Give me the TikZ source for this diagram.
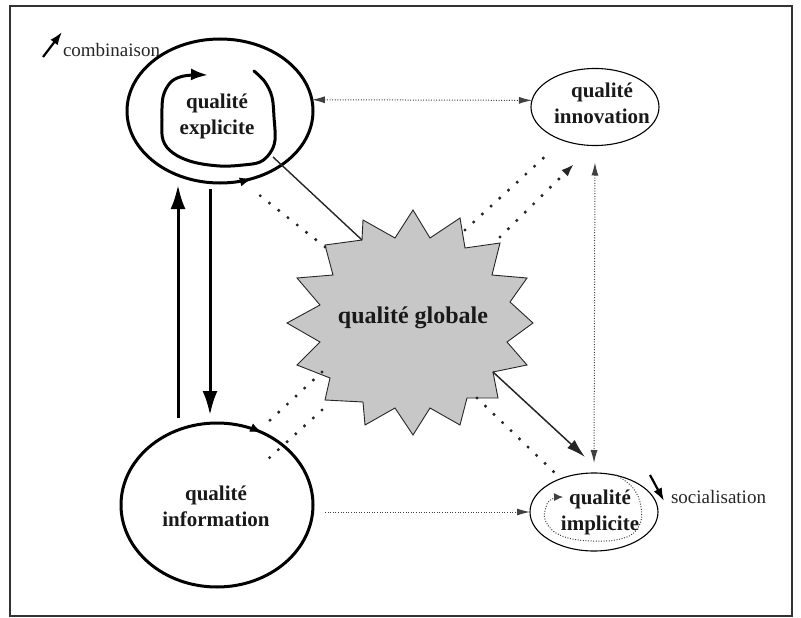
\documentclass[tikz,border=0pt]{standalone}
\usepackage{fontspec}
\setmainfont{Liberation Serif}
\usetikzlibrary{arrows.meta,shapes.geometric,calc}

\begin{document}
\begin{tikzpicture}[x=1pt,y=-1pt,
  every node/.style={inner sep=0pt, outer sep=0pt},
  ring/.style={ellipse, draw=black, inner sep=0pt},
  boldring/.style={line width=3pt},
  thinring/.style={line width=1.1pt},
  lbl/.style={font=\bfseries\fontsize{21}{26}\selectfont, align=center, text=black!90},
  side/.style={font=\fontsize{19}{22}\selectfont, text=black!85},
  fatarrow/.style={line width=3pt, -{Latex[length=24pt,width=15pt]}},
  dotrow/.style={line width=3.4pt, line cap=round, dash pattern=on 0pt off 11.8pt, draw=black!85},
  finedot/.style={line width=1pt, dash pattern=on 1pt off 1.6pt, draw=black!75},
  finetip/.style={-{Latex[length=13pt,width=7pt]}},
  fineboth/.style={{Latex[length=13pt,width=7pt]}-{Latex[length=13pt,width=7pt]}},
  cyclehead/.style={line width=1pt, -{Latex[length=12pt,width=9pt]}},
  labelarrow/.style={line width=2.2pt, -{Latex[length=13pt,width=9pt]}}
]
\useasboundingbox (0,0) rectangle (801,618);
\draw[line width=1.4pt, black!80] (10,6) rectangle (792,616);

% central starburst
\path[fill=black!22, draw=black!85, line width=0.9pt]
  (413,210) -- (430,238) -- (460,218) -- (465,248) -- (500,243) -- (492,275)
  -- (527,278) -- (510,302) -- (533,323) -- (507,342) -- (527,365) -- (493,372)
  -- (498,398) -- (467,398) -- (460,425) -- (430,408) -- (413,435) -- (395,408)
  -- (365,425) -- (363,402) -- (325,400) -- (330,378) -- (297,365) -- (320,342)
  -- (287,323) -- (320,305) -- (297,278) -- (333,275) -- (325,245) -- (362,240)
  -- (363,220) -- (395,238) -- cycle;
\coordinate (s-nw) at (362,240);
\coordinate (s-se) at (493,372);
\node[font=\bfseries\fontsize{24}{28}\selectfont, text=black!90] (glob) at (413,318) {qualité globale};

% the four qualities
\node[ring, boldring, minimum width=186pt, minimum height=144pt] (expl) at (220,111) {};
\node[lbl] (expl-t) at (217,116) {qualité\\explicite};

\node[ring, boldring, minimum width=192pt, minimum height=164pt] (info) at (217,505) {};
\node[lbl] (info-t) at (216,506) {qualité\\information};

\node[ring, thinring, minimum width=128pt, minimum height=77pt] (innov) at (595,107) {};
\node[lbl] (innov-t) at (602,103) {qualité\\innovation};

\node[ring, thinring, minimum width=128pt, minimum height=78pt] (impl) at (594,512) {};
\node[lbl] (impl-t) at (600,512) {qualité\\implicite};

% combination loop inside the explicit quality
\draw[boldring, line cap=round, line join=round, -{Latex[length=17pt,width=12pt]}]
  plot[smooth, tension=0.6] coordinates {(254,71) (265,82) (272,97) (274,117)
  (275,140) (270,153) (260,162) (243,165) (220,166) (193,162) (173,153) (163,140)
  (162,120) (163,97) (170,83) (180,77) (193,75) (208,75)};

% socialisation loop inside the implicit quality
\draw[finedot, -{Latex[length=9pt,width=8pt]}]
  plot[smooth, tension=0.7] coordinates {(616,475) (633,488) (641,507) (639,526)
  (624,538) (593,541) (562,536) (546,522) (546,507) (552,499) (563,497)};

% heads running along the outlines
\draw[cyclehead] (expl.center) ++(97:93 and 72) arc[start angle=97, end angle=70, x radius=93, y radius=72];
\draw[cyclehead] (info.center) ++(-78:96 and 82) arc[start angle=-78, end angle=-62, x radius=96, y radius=82];

% explicit <-> information
\draw[fatarrow] ([xshift=-39pt,yshift=5pt]info.north) -- ([xshift=-42pt,yshift=-2pt]expl.south);
\draw[fatarrow] ([xshift=-10pt,yshift=-6pt]expl.south) -- ([xshift=-7pt,yshift=8pt]info.north);

% fine dotted links
\draw[finedot, fineboth] (expl.7) -- (innov.174);
\draw[finedot, finetip, shorten <=12pt] (info.east |- impl.west) -- (impl.west);
\draw[finedot, fineboth, shorten <=17pt, shorten >=10pt] (innov.south) -- (impl.north);

% solid links from the global quality
\draw[line width=1.4pt, black!85] ($(expl.center)+(53,46)$) -- (s-nw);
\draw[line width=1.5pt, black!85, -{Latex[length=19pt,width=11pt]}] (s-se) -- ($(impl.north)+(-9,-16)$);

% dotted rows from the global quality
\coordinate (ul-a) at (325,247);  \coordinate (ul-b) at (253,190);
\coordinate (ur-a) at (465,230);  \coordinate (ur-b) at (550,152);
\coordinate (ur-c) at (500,237);  \coordinate (ur-d) at (574,164);
\coordinate (ll-a) at (322,372);  \coordinate (ll-b) at (267,423);
\coordinate (ll-c) at (322,410);  \coordinate (ll-d) at (267,460);
\coordinate (lr-a) at (477,398);  \coordinate (lr-b) at (555,473);
\draw[dotrow] (ul-a) -- (ul-b);
\draw[dotrow] (ur-a) -- (ur-b);
\draw[dotrow, -{Latex[length=13pt,width=9pt]}] (ur-c) -- (ur-d);
\draw[dotrow] (ll-a) -- (ll-b);
\draw[dotrow] (ll-c) -- (ll-d);
\draw[dotrow] (lr-a) -- (lr-b);

% side labels
\coordinate (comb-a) at (43,57);
\node[side, anchor=west] (comb) at (63,50) {combinaison};
\draw[labelarrow] (comb-a) -- ([xshift=-1pt,yshift=18pt]comb.west);
\coordinate (soc-a) at (650,475);
\node[side, anchor=west] (soc) at (671,497) {socialisation};
\draw[labelarrow] (soc-a) -- ([xshift=-7pt,yshift=-4pt]soc.west);
\end{tikzpicture}
\end{document}
